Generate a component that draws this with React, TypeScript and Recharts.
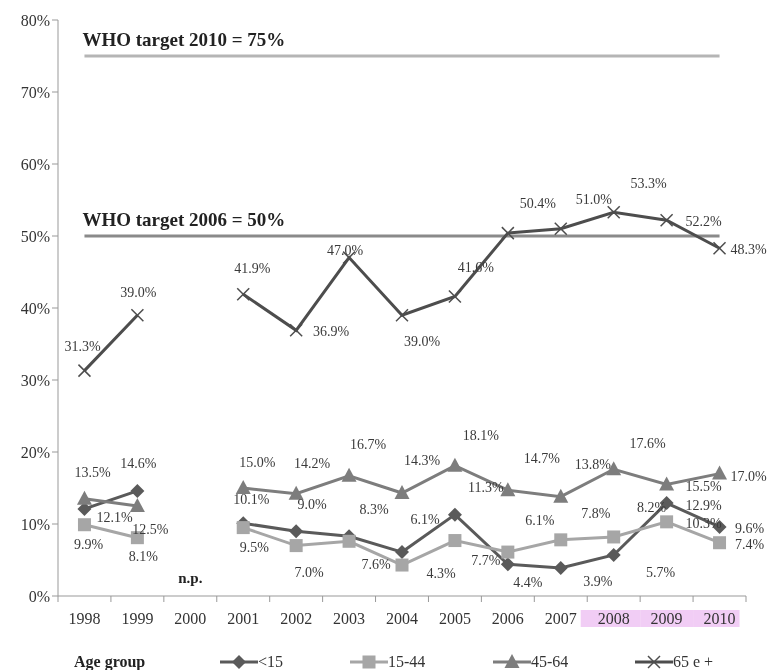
import React from "react";
import {
  LineChart,
  Line,
  XAxis,
  YAxis,
  ReferenceLine,
  ReferenceDot,
  LabelList,
  Legend,
} from "recharts";

const YEARS = ["1998", "1999", "2000", "2001", "2002", "2003", "2004", "2005", "2006", "2007", "2008", "2009", "2010"];
const HIGHLIGHT_YEARS = ["2008", "2009", "2010"];

const UNDER_15 = [12.1, 14.6, null, 10.1, 9.0, 8.3, 6.1, 11.3, 4.4, 3.9, 5.7, 12.9, 9.6];
const AGE_15_44 = [9.9, 8.1, null, 9.5, 7.0, 7.6, 4.3, 7.7, 6.1, 7.8, 8.2, 10.3, 7.4];
const AGE_45_64 = [13.5, 12.5, null, 15.0, 14.2, 16.7, 14.3, 18.1, 14.7, 13.8, 17.6, 15.5, 17.0];
const AGE_65_PLUS = [31.3, 39.0, null, 41.9, 36.9, 47.0, 39.0, 41.6, 50.4, 51.0, 53.3, 52.2, 48.3];

const TARGET_VALUES = [75, 50];
const TARGET_LABELS = ["WHO target 2010 = 75%", "WHO target 2006 = 50%"];
const TARGET_COLORS = ["#b5b5b5", "#8a8a8a"];

const Y_TICKS = [0, 10, 20, 30, 40, 50, 60, 70, 80];

const FONT = "'Liberation Serif', 'Times New Roman', serif";
const TEXT = "#333";

// chart geometry (the chart is pinned to the window corner so no scrollbar appears)
const WIDTH = 768;
const HEIGHT = 670;
const LEFT = 8;
const Y_AXIS_W = 50;
const RIGHT = 22;
const BAND = (WIDTH - LEFT - Y_AXIS_W - RIGHT) / YEARS.length;

// hand placed data label offsets (dx, dy from the point), like the original
const LABEL_OFFSETS: Record<string, [number, number][]> = {
  u15: [[30, 8], [1, -28], [0, 0], [8, -24], [16, -27], [25, -27], [23, -33], [31, -28], [20, 18], [37, 13], [47, 17], [37, 2], [30, 1]],
  a1544: [[4, 19], [6, 18], [0, 0], [11, 19], [13, 26], [27, 23], [39, 8], [31, 20], [32, -32], [35, -27], [38, -30], [37, 1], [30, 1]],
  a4564: [[8, -27], [13, 23], [0, 0], [14, -26], [16, -31], [19, -32], [20, -33], [26, -31], [34, -32], [32, -33], [34, -26], [37, 2], [29, 2]],
  a65: [[-2, -25], [1, -23], [0, 0], [9, -26], [35, 1], [-4, -8], [20, 26], [21, -29], [30, -30], [33, -30], [35, -29], [37, 1], [29, 1]],
};

const data = YEARS.map((year, i) => ({
  year,
  u15: UNDER_15[i],
  a1544: AGE_15_44[i],
  a4564: AGE_45_64[i],
  a65: AGE_65_PLUS[i],
}));

type Shape = "diamond" | "square" | "triangle" | "cross";

const SERIES: { key: string; name: string; color: string; shape: Shape }[] = [
  { key: "u15", name: "<15", color: "#5a5a5a", shape: "diamond" },
  { key: "a1544", name: "15-44", color: "#a6a6a6", shape: "square" },
  { key: "a4564", name: "45-64", color: "#7d7d7d", shape: "triangle" },
  { key: "a65", name: "65 e +", color: "#4d4d4d", shape: "cross" },
];

function marker(shape: Shape, cx: number, cy: number, color: string, key?: string | number) {
  if (shape === "diamond")
    return <polygon key={key} points={`${cx},${cy - 7} ${cx + 7},${cy} ${cx},${cy + 7} ${cx - 7},${cy}`} fill={color} />;
  if (shape === "square") return <rect key={key} x={cx - 6.5} y={cy - 6.5} width={13} height={13} fill={color} />;
  if (shape === "triangle")
    return <polygon key={key} points={`${cx},${cy - 8} ${cx + 7.5},${cy + 6} ${cx - 7.5},${cy + 6}`} fill={color} />;
  return (
    <g key={key} stroke={color} strokeWidth={1.5}>
      <line x1={cx - 6} y1={cy - 6} x2={cx + 6} y2={cy + 6} />
      <line x1={cx - 6} y1={cy + 6} x2={cx + 6} y2={cy - 6} />
    </g>
  );
}

/* eslint-disable @typescript-eslint/no-explicit-any */
const makeDot = (shape: Shape, color: string) => (props: any) => {
  const { cx, cy, index, value } = props;
  if (cx == null || cy == null || value == null) return <g key={index} />;
  return marker(shape, cx, cy, color, index);
};

const makeLabel = (key: string) => (props: any) => {
  const { index, value } = props;
  const x = props.x ?? props.viewBox?.x;
  const y = props.y ?? props.viewBox?.y;
  if (value == null || x == null || y == null) return null;
  const [dx, dy] = LABEL_OFFSETS[key][index] || [0, 0];
  return (
    <text x={x + dx} y={y + dy} dy="0.35em" textAnchor="middle" fontSize={14} fontFamily={FONT} fill="#3a3a3a">
      {Number(value).toFixed(1)}%
    </text>
  );
};

const YearTick = (props: any) => {
  const { x, y, payload, index } = props;
  const half = BAND / 2;
  const hi = HIGHLIGHT_YEARS.indexOf(payload.value);
  let rect = null;
  if (hi >= 0) {
    const left = hi === 0 ? x - 33 : x - half;
    const right = hi === HIGHLIGHT_YEARS.length - 1 ? x + 20 : x + half;
    rect = <rect x={left} y={y + 14} width={right - left} height={17} fill="#f1cdf5" />;
  }
  return (
    <g>
      {rect}
      <line x1={x - half} y1={y} x2={x - half} y2={y + 6} stroke="#999" />
      {index === YEARS.length - 1 && <line x1={x + half} y1={y} x2={x + half} y2={y + 6} stroke="#999" />}
      <text x={x} y={y + 22.5} dy="0.35em" textAnchor="middle" fontSize={16} fontFamily={FONT} fill={TEXT}>
        {payload.value}
      </text>
    </g>
  );
};

const TargetLabel = (props: any) => {
  const { viewBox, text } = props;
  if (!viewBox) return null;
  return (
    <text x={viewBox.x - 2} y={viewBox.y - 10} fontSize={19} fontWeight="bold" fontFamily={FONT} fill="#222">
      {text}
    </text>
  );
};

const NpLabel = (props: any) => {
  const { viewBox } = props;
  if (!viewBox) return null;
  const cx = viewBox.x + (viewBox.width || 0) / 2;
  const cy = viewBox.y + (viewBox.height || 0) / 2;
  return (
    <text x={cx} y={cy} dy="0.35em" textAnchor="middle" fontSize={15} fontWeight="bold" fontFamily={FONT} fill="#222">
      n.p.
    </text>
  );
};

const LEGEND_LEFT = [220, 350, 493, 635];

const renderLegend = () => (
  <div style={{ position: "relative", width: WIDTH, height: 34, fontFamily: FONT, fontSize: 16, color: TEXT }}>
    <span style={{ position: "absolute", left: 74, top: 18, lineHeight: "16px", fontWeight: "bold", color: "#222" }}>
      Age group
    </span>
    {SERIES.map((s, i) => (
      <div key={s.key} style={{ position: "absolute", left: LEGEND_LEFT[i], top: 18, height: 16, display: "flex", alignItems: "center" }}>
        <svg width={38} height={16}>
          <line x1={0} y1={8} x2={38} y2={8} stroke={s.color} strokeWidth={3} />
          {marker(s.shape, 19, 8, s.color)}
        </svg>
        <span style={{ lineHeight: "16px" }}>{s.name}</span>
      </div>
    ))}
  </div>
);
/* eslint-enable @typescript-eslint/no-explicit-any */

export default function App() {
  return (
    <div style={{ position: "fixed", left: 0, top: 0, width: WIDTH, height: HEIGHT }}>
      <LineChart
        width={WIDTH}
        height={HEIGHT}
        data={data}
        margin={{ top: 20, right: RIGHT, bottom: 0, left: LEFT }}
        style={{ fontFamily: FONT }}
      >
        <XAxis
          dataKey="year"
          scale="point"
          padding={{ left: BAND / 2, right: BAND / 2 }}
          height={40}
          axisLine={{ stroke: "#999" }}
          tickLine={false}
          tickSize={0}
          tickMargin={0}
          interval={0}
          tick={<YearTick />}
        />
        <YAxis
          width={Y_AXIS_W}
          domain={[0, 80]}
          ticks={Y_TICKS}
          tickFormatter={(v) => `${v}%`}
          axisLine={{ stroke: "#999" }}
          tickLine={{ stroke: "#999" }}
          tickSize={6}
          tickMargin={2}
          tick={{ fontSize: 16, fontFamily: FONT, fill: TEXT }}
        />
        <Legend verticalAlign="bottom" content={renderLegend} wrapperStyle={{ left: 0, width: WIDTH }} />
        {TARGET_VALUES.map((v, i) => (
          <ReferenceLine
            key={v}
            segment={[{ x: YEARS[0], y: v }, { x: YEARS[YEARS.length - 1], y: v }]}
            stroke={TARGET_COLORS[i]}
            strokeWidth={3}
            label={<TargetLabel text={TARGET_LABELS[i]} />}
          />
        ))}
        <ReferenceDot x="2000" y={2.5} r={0} stroke="none" fill="none" label={<NpLabel />} />
        {SERIES.map((s) => (
          <Line
            key={s.key}
            dataKey={s.key}
            name={s.name}
            stroke={s.color}
            strokeWidth={3}
            dot={makeDot(s.shape, s.color)}
            activeDot={false}
            isAnimationActive={false}
          >
            <LabelList dataKey={s.key} content={makeLabel(s.key)} />
          </Line>
        ))}
      </LineChart>
    </div>
  );
}
